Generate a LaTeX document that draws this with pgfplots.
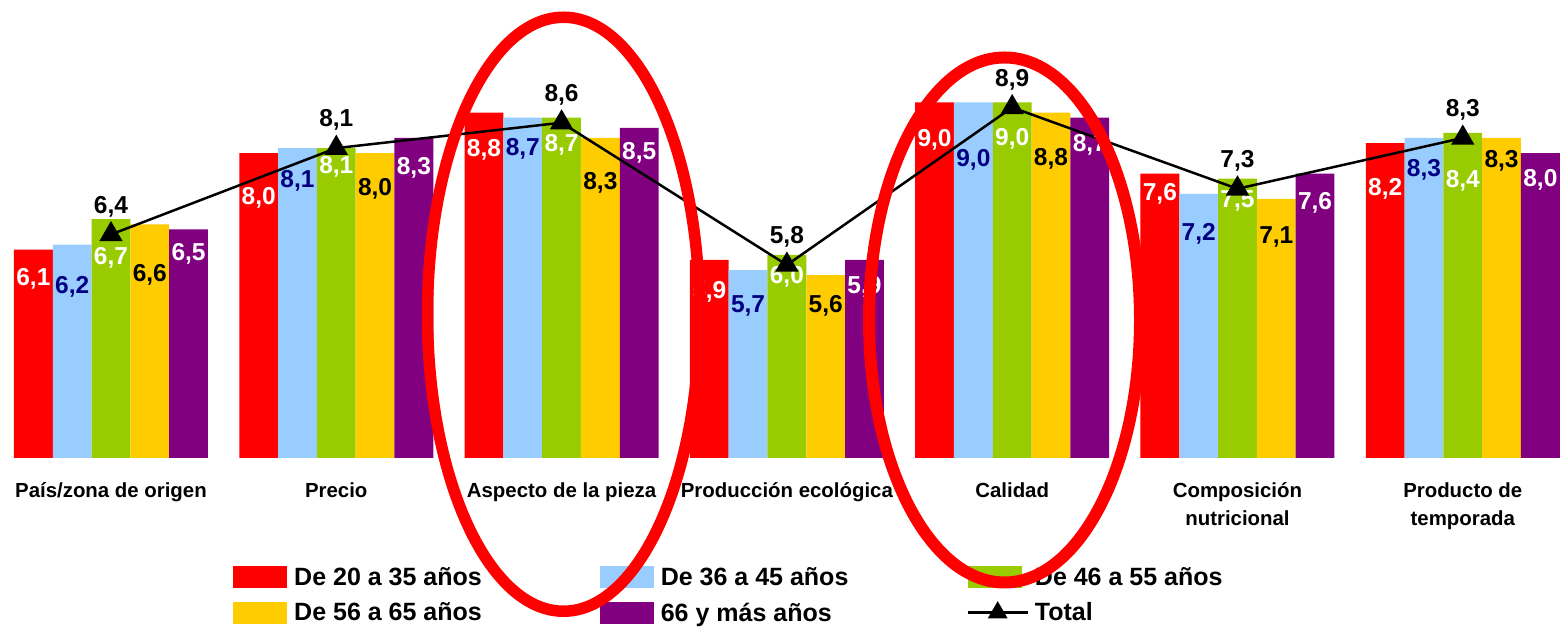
\documentclass[border=0pt]{standalone}
\usepackage{fontspec}
\setmainfont{Liberation Sans}
\usepackage{pgfplots}
\pgfplotsset{compat=1.18}
\usepackage{pgfplotstable}

\definecolor{rojo}{HTML}{FF0000}
\definecolor{azul}{HTML}{99CCFF}
\definecolor{verde}{HTML}{99CC00}
\definecolor{amarillo}{HTML}{FFCC00}
\definecolor{morado}{HTML}{800080}
\definecolor{marino}{HTML}{000080}

% valores por grupo de edad; columnas *l = desplazamiento de la etiqueta bajo el borde de la barra
\pgfplotstableread{
x  r   rl  az  azl v   vl  am  aml m   ml  t
0  6.1 29  6.2 42  6.7 39  6.6 51  6.5 24  6.4
1  8.0 45  8.1 33  8.1 19  8.0 36  8.3 30  8.1
2  8.8 37  8.7 31  8.7 27  8.3 45  8.5 25  8.6
3  5.9 32  5.7 36  6.0 22  5.6 31  5.9 27  5.8
4  9.0 37  9.0 57  9.0 36  8.8 46  8.7 27  8.9
5  7.6 20  7.2 40  7.5 22  7.1 38  7.6 29  7.3
6  8.2 46  8.3 32  8.4 48  8.3 23  8.0 27  8.3
}\datos

\pgfplotsset{
  barra/.style n args={4}{ybar, bar width=38.8pt, bar shift=#1, fill=#2, draw=none,
    nodes near coords,
    visualization depends on={\thisrow{#4} \as \off},
    every node near coord/.append style={text=#3, anchor=center, xshift=#1, yshift=-\off pt},
    legend image code/.code={\fill[#2] (0pt,-11pt) rectangle (54pt,11pt); \path (59pt,0pt);}},
  total/.style={black, line width=2.5pt, mark=triangle*, mark size=11pt, mark options={solid},
    nodes near coords, every node near coord/.append style={text=black, anchor=center, yshift=28pt},
    legend image code/.code={\draw[mark repeat=2, mark phase=2, ##1, mark size=9pt]
      plot coordinates {(0pt,0pt) (30pt,0pt) (60pt,0pt)}; \path (64pt,0pt);}},
}

\begin{document}
\begin{tikzpicture}
\useasboundingbox (0,0) rectangle (1565pt,628pt);
\begin{axis}[
  at={(9.6pt,170pt)}, anchor=south west,
  scale only axis, width=1554.6pt, height=406.4pt,
  xmin=-0.45, xmax=6.45, ymin=2, ymax=10,
  clip=false,
  axis line style={draw=none}, tick style={draw=none},
  ytick=\empty, xtick={0,...,6},
  xticklabels={País/zona de origen, Precio, Aspecto de la pieza, Producción ecológica,
    Calidad, {Composición\\nutricional}, {Producto de\\temporada}},
  xticklabel style={font=\fontsize{20.4}{28}\selectfont\bfseries, align=center, anchor=north, yshift=-21pt},
  /pgf/number format/fixed, /pgf/number format/fixed zerofill,
  /pgf/number format/precision=1, /pgf/number format/use comma,
  /pgf/number format/assume math mode=true,
  every node near coord/.append style={font=\fontsize{24.5}{26}\selectfont\bfseries},
  legend columns=3, legend cell align=left,
  legend style={at={(0.1418,-0.2584)}, anchor=north west, draw=none, fill=none,
    font=\fontsize{25}{28}\selectfont\bfseries, row sep=12pt,
    /tikz/every even column/.append style={column sep=116pt}},
]
\addplot[barra={-77.6pt}{rojo}{white}{rl}] table[x=x, y=r] {\datos};
\addplot[barra={-38.8pt}{azul}{marino}{azl}] table[x=x, y=az] {\datos};
\addplot[barra={0pt}{verde}{white}{vl}] table[x=x, y=v] {\datos};
\addplot[barra={38.8pt}{amarillo}{black}{aml}] table[x=x, y=am] {\datos};
\addplot[barra={77.6pt}{morado}{white}{ml}] table[x=x, y=m] {\datos};
\addplot[total] table[x=x, y=t] {\datos};
\legend{De 20 a 35 años, De 36 a 45 años, De 46 a 55 años,
  De 56 a 65 años, 66 y más años, Total}
\end{axis}
\draw[red, line width=11.5pt] (563.5pt,313.75pt) ellipse [x radius=136pt, y radius=297pt];
\draw[red, line width=12pt] (1004.5pt,308pt) ellipse [x radius=135.5pt, y radius=262.5pt];
\end{tikzpicture}
\end{document}
